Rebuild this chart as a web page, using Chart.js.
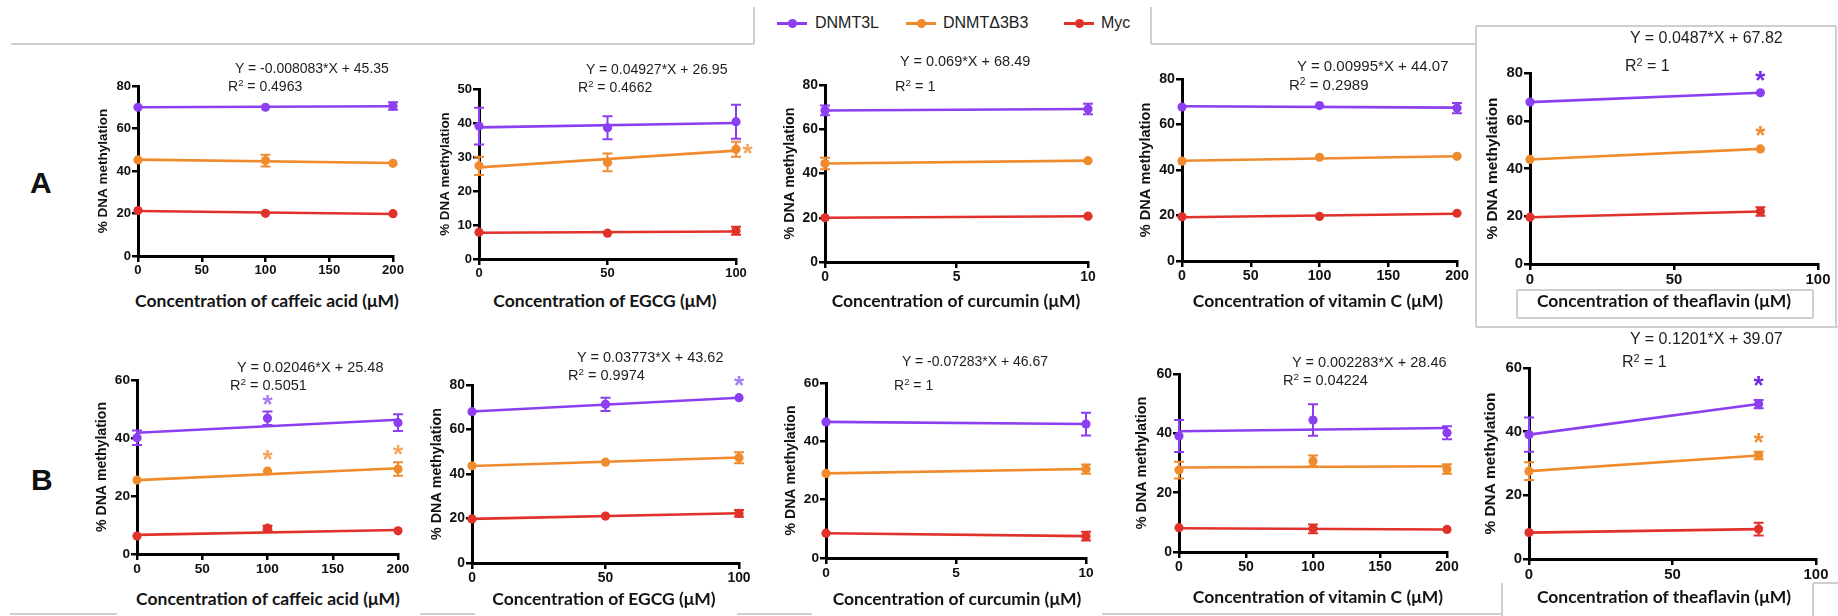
<!DOCTYPE html>
<html>
<head>
<meta charset="utf-8">
<script src="https://cdn.jsdelivr.net/npm/chart.js"></script>
<style>
  html, body { margin: 0; padding: 0; background: #fff; }
  body { position: relative; width: 1838px; height: 616px; overflow: hidden;
         font-family: "Liberation Sans", Arial, Helvetica, sans-serif; color: #1a1a1a; }
  .abs { position: absolute; white-space: nowrap; }
  .rule { position: absolute; background: #cfcfcf; }
  .eq { position: absolute; white-space: nowrap; line-height: 1; color: #1e1e1e; }
  .eq sup { font-size: 0.68em; line-height: 0; vertical-align: 0.5em; }
  .xlab { position: absolute; width: 420px; text-align: center; line-height: 1;
          font-family: Lato, "Open Sans", sans-serif; font-weight: 700; color: #141414; white-space: nowrap; }
  .panelLetter { position: absolute; font-weight: 700; font-size: 30px; line-height: 1; color: #111; }
  canvas { position: absolute; }
</style>
</head>
<body>
<script>
// ---- series ----
const SERIES = ['DNMT3L', 'DNMTΔ3B3', 'Myc'];
const COLORS = ['#8c3ff0', '#ef8b2c', '#e0312b'];
const STAR_LIGHT = ['#a87ef3', '#f4a55c'];
const STAR_DARK = ['#7428e2', '#f08d33'];
const Y_TITLE = '% DNA methylation';

// ---- A: caffeic acid ----
const a1Dose = [0, 100, 200];
const a1Mean = [[70.0, 70.0, 70.6], [45.2, 44.9, 43.6], [21.4, 20.1, 19.9]];
const a1Err  = [[0, 0, 1.8], [0, 2.8, 0], [0, 0, 0]];
const a1Fit  = [[70.0, 70.5], null, [21.2, 19.8]];
const a1Eq   = [-0.008083, 45.35];
const a1R2   = '0.4963';
const a1Stars = [];

// ---- A: EGCG ----
const a2Dose = [0, 50, 100];
const a2Mean = [[39.1, 38.6, 40.4], [27.4, 28.4, 32.3], [7.9, 7.6, 8.3]];
const a2Err  = [[5.4, 3.4, 5.0], [2.7, 2.6, 2.2], [0, 0, 1.2]];
const a2Fit  = [[38.7, 40.0], null, [7.7, 8.1]];
const a2Eq   = [0.04927, 26.95];
const a2R2   = '0.4662';
const a2Stars = [[1, 104.5, 32.5]];

// ---- A: curcumin ----
const a3Dose = [0, 10];
const a3Mean = [[68.49, 69.18], [44.5, 45.8], [20.0, 20.7]];
const a3Err  = [[2.2, 2.4], [2.6, 0], [0, 0]];
const a3Fit  = [null, null, null];
const a3Eq   = [0.069, 68.49];
const a3R2   = '1';
const a3Stars = [];

// ---- A: vitamin C ----
const a4Dose = [0, 100, 200];
const a4Mean = [[67.7, 68.3, 67.2], [43.9, 45.6, 46.0], [19.4, 19.6, 21.0]];
const a4Err  = [[0, 0, 2.3], [0, 0, 0], [0, 0, 0]];
const a4Fit  = [[68.0, 67.4], null, [19.2, 20.8]];
const a4Eq   = [0.00995, 44.07];
const a4R2   = '0.2989';
const a4Stars = [];

// ---- A: theaflavin ----
const a5Dose = [0, 80];
const a5Mean = [[67.82, 71.72], [43.8, 48.2], [19.6, 22.0]];
const a5Err  = [[0, 0], [0, 0], [0, 1.8]];
const a5Fit  = [null, null, null];
const a5Eq   = [0.0487, 67.82];
const a5R2   = '1';
const a5Stars = [[0, 80, 78.7], [1, 80, 55.7]];

// ---- B: caffeic acid ----
const b1Dose = [0, 100, 200];
const b1Mean = [[40.1, 46.8, 45.3], [25.5, 28.6, 29.3], [6.2, 8.9, 8.0]];
const b1Err  = [[2.5, 2.3, 2.9], [0, 0, 2.3], [0, 0.8, 0]];
const b1Fit  = [[41.8, 46.3], null, [6.6, 8.3]];
const b1Eq   = [0.02046, 25.48];
const b1R2   = '0.5051';
const b1Stars = [[0, 100, 53.1], [1, 100, 34.1], [1, 200, 35.9]];

// ---- B: EGCG ----
const b2Dose = [0, 50, 100];
const b2Mean = [[68.0, 71.3, 74.3], [43.7, 45.3, 47.3], [19.8, 21.1, 22.3]];
const b2Err  = [[0, 3.0, 0], [0, 0, 2.5], [0, 0, 1.5]];
const b2Fit  = [[68.1, 74.3], null, [19.85, 22.35]];
const b2Eq   = [0.03773, 43.62];
const b2R2   = '0.9974';
const b2Stars = [[0, 100, 82]];

// ---- B: curcumin ----
const b3Dose = [0, 10];
const b3Mean = [[46.67, 45.94], [29.0, 30.5], [8.5, 7.5]];
const b3Err  = [[0, 3.9], [0, 1.6], [0, 1.5]];
const b3Fit  = [null, null, null];
const b3Eq   = [-0.07283, 46.67];
const b3R2   = '1';
const b3Stars = [];

// ---- B: vitamin C ----
const b4Dose = [0, 100, 200];
const b4Mean = [[39.1, 44.5, 40.2], [27.6, 30.7, 28.0], [8.2, 7.8, 7.6]];
const b4Err  = [[5.4, 5.3, 2.2], [2.8, 1.8, 1.6], [0, 1.5, 0]];
const b4Fit  = [[40.7, 41.8], null, [8.0, 7.6]];
const b4Eq   = [0.002283, 28.46];
const b4R2   = '0.04224';
const b4Stars = [];

// ---- B: theaflavin ----
const b5Dose = [0, 80];
const b5Mean = [[39.07, 48.68], [27.6, 32.5], [8.3, 9.4]];
const b5Err  = [[5.4, 1.3], [2.8, 1.2], [0, 2.0]];
const b5Fit  = [null, null, null];
const b5Eq   = [0.1201, 39.07];
const b5R2   = '1';
const b5Stars = [[0, 80, 56.0], [1, 80, 38.1]];

// ---- axis labels ----
const COMPOUND_LABELS = [
  'Concentration of caffeic acid (μM)',
  'Concentration of EGCG (μM)',
  'Concentration of curcumin (μM)',
  'Concentration of vitamin C (μM)',
  'Concentration of theaflavin (μM)'
];

// ---- panel geometry (plot box in page pixels) ----
const panels = [
  { dose: a1Dose, mean: a1Mean, err: a1Err, fit: a1Fit, eq: a1Eq, r2: a1R2, stars: a1Stars, eqSeries: 1, label: 0,
    yMax: 80, yStep: 20, xMax: 200, xStep: 50, starSet: STAR_LIGHT,
    L: 138, T: 86, R: 393, B: 256, yTitleX: 103, yFont: 13.5, labX: 267, labY: 301, eqPos: [235, 68, 14], r2Pos: [228, 86, 14] },
  { dose: a2Dose, mean: a2Mean, err: a2Err, fit: a2Fit, eq: a2Eq, r2: a2R2, stars: a2Stars, eqSeries: 1, label: 1,
    yMax: 50, yStep: 10, xMax: 100, xStep: 50, starSet: STAR_LIGHT,
    L: 479, T: 89, R: 736, B: 259, yTitleX: 445, yFont: 13.4, labX: 605, labY: 301, eqPos: [586, 69, 14], r2Pos: [578, 87, 14] },
  { dose: a3Dose, mean: a3Mean, err: a3Err, fit: a3Fit, eq: a3Eq, r2: a3R2, stars: a3Stars, eqSeries: 0, label: 2,
    yMax: 80, yStep: 20, xMax: 10, xStep: 5, starSet: STAR_LIGHT,
    L: 825, T: 85, R: 1088, B: 262, yTitleX: 790, yFont: 14.3, labX: 956, labY: 301, eqPos: [900, 61, 14.5], r2Pos: [895, 86, 14.5] },
  { dose: a4Dose, mean: a4Mean, err: a4Err, fit: a4Fit, eq: a4Eq, r2: a4R2, stars: a4Stars, eqSeries: 1, label: 3,
    yMax: 80, yStep: 20, xMax: 200, xStep: 50, starSet: STAR_LIGHT,
    L: 1182, T: 79, R: 1457, B: 261, yTitleX: 1146, yFont: 14.6, labX: 1318, labY: 301, eqPos: [1297, 65, 15], r2Pos: [1289, 84, 15] },
  { dose: a5Dose, mean: a5Mean, err: a5Err, fit: a5Fit, eq: a5Eq, r2: a5R2, stars: a5Stars, eqSeries: 0, label: 4,
    yMax: 80, yStep: 20, xMax: 100, xStep: 50, starSet: STAR_DARK,
    L: 1530, T: 73, R: 1818, B: 264, yTitleX: 1493, yFont: 15.4, labX: 1664, labY: 301, eqPos: [1630, 38, 16], r2Pos: [1625, 66, 16] },
  { dose: b1Dose, mean: b1Mean, err: b1Err, fit: b1Fit, eq: b1Eq, r2: b1R2, stars: b1Stars, eqSeries: 1, label: 0,
    yMax: 60, yStep: 20, xMax: 200, xStep: 50, starSet: STAR_LIGHT,
    L: 137, T: 380, R: 398, B: 554, yTitleX: 102, yFont: 14.1, labX: 268, labY: 599, eqPos: [237, 367, 14.5], r2Pos: [230, 385, 14.5] },
  { dose: b2Dose, mean: b2Mean, err: b2Err, fit: b2Fit, eq: b2Eq, r2: b2R2, stars: b2Stars, eqSeries: 1, label: 1,
    yMax: 80, yStep: 20, xMax: 100, xStep: 50, starSet: STAR_LIGHT,
    L: 472, T: 385, R: 739, B: 563, yTitleX: 437, yFont: 14.3, labX: 604, labY: 599, eqPos: [577, 357, 14.5], r2Pos: [568, 375, 14.5] },
  { dose: b3Dose, mean: b3Mean, err: b3Err, fit: b3Fit, eq: b3Eq, r2: b3R2, stars: b3Stars, eqSeries: 0, label: 2,
    yMax: 60, yStep: 20, xMax: 10, xStep: 5, starSet: STAR_LIGHT,
    L: 826, T: 383, R: 1086, B: 558, yTitleX: 791, yFont: 14.1, labX: 957, labY: 599, eqPos: [902, 361, 14], r2Pos: [894, 385, 14] },
  { dose: b4Dose, mean: b4Mean, err: b4Err, fit: b4Fit, eq: b4Eq, r2: b4R2, stars: b4Stars, eqSeries: 1, label: 3,
    yMax: 60, yStep: 20, xMax: 200, xStep: 50, starSet: STAR_LIGHT,
    L: 1179, T: 374, R: 1447, B: 552, yTitleX: 1142, yFont: 14.4, labX: 1318, labY: 597, eqPos: [1292, 362, 14.5], r2Pos: [1283, 380, 14.5] },
  { dose: b5Dose, mean: b5Mean, err: b5Err, fit: b5Fit, eq: b5Eq, r2: b5R2, stars: b5Stars, eqSeries: 0, label: 4,
    yMax: 60, yStep: 20, xMax: 100, xStep: 50, starSet: STAR_DARK,
    L: 1529, T: 368, R: 1816, B: 559, yTitleX: 1491, yFont: 15.4, labX: 1664, labY: 597, eqPos: [1630, 339, 16], r2Pos: [1622, 362, 16] }
];

// ---- thin grey frame rules: [x1, y1, x2, y2] ----
const RULES = [
  [11, 44, 754, 44], [754, 7, 754, 44],
  [1151, 7, 1151, 44], [1151, 44, 1476, 44],
  [1476, 26, 1476, 327], [1476, 26, 1836, 26], [1836, 26, 1836, 327], [1476, 327, 1838, 327],
  [1517, 290, 1813, 290], [1517, 290, 1517, 318], [1813, 290, 1813, 318], [1517, 318, 1813, 318],
  [10, 614, 117, 614], [420, 614, 475, 614], [737, 614, 812, 614], [1102, 614, 1502, 614],
  [1502, 583, 1502, 616], [1813, 583, 1813, 616], [1813, 583, 1838, 583]
];

const LEGEND_POS = [[777, 815], [906, 943], [1064, 1101]]; // [marker start, text start]
const LEGEND_Y = 23;

// ---------------------------------------------------------------
function addRule(x1, y1, x2, y2) {
  const d = document.createElement('div');
  d.className = 'rule';
  if (y1 === y2) {
    Object.assign(d.style, { left: x1 + 'px', top: (y1 - 0.75) + 'px', width: (x2 - x1) + 'px', height: '1.5px' });
  } else {
    Object.assign(d.style, { left: (x1 - 0.75) + 'px', top: y1 + 'px', width: '1.5px', height: (y2 - y1) + 'px' });
  }
  document.body.appendChild(d);
}
RULES.forEach(r => addRule(...r));

// legend
SERIES.forEach((name, i) => {
  const [mx, tx] = LEGEND_POS[i];
  const ln = document.createElement('div');
  Object.assign(ln.style, { position: 'absolute', left: mx + 'px', top: (LEGEND_Y - 1.5) + 'px', width: '30px', height: '3px', background: COLORS[i] });
  const dot = document.createElement('div');
  Object.assign(dot.style, { position: 'absolute', left: (mx + 15 - 4.5) + 'px', top: (LEGEND_Y - 4.5) + 'px', width: '9px', height: '9px', borderRadius: '50%', background: COLORS[i] });
  const tx1 = document.createElement('div');
  tx1.className = 'abs';
  Object.assign(tx1.style, { left: tx + 'px', top: (LEGEND_Y - 8) + 'px', fontSize: '16px', lineHeight: '16px', color: '#222' });
  tx1.textContent = name;
  document.body.append(ln, dot, tx1);
});

// panel letters
[['A', 30, 168], ['B', 31, 465]].forEach(([t, x, y]) => {
  const d = document.createElement('div');
  d.className = 'panelLetter';
  d.style.left = x + 'px'; d.style.top = y + 'px';
  d.textContent = t;
  document.body.appendChild(d);
});

// error bars with caps
const errorBars = {
  id: 'errorBars',
  afterDatasetsDraw(chart) {
    const { ctx, scales: { x, y } } = chart;
    chart.data.datasets.forEach(ds => {
      if (!ds.errs) return;
      ctx.save();
      ctx.strokeStyle = ds.backgroundColor;
      ctx.lineWidth = 2;
      ds.data.forEach((pt, i) => {
        const e = ds.errs[i];
        if (!e) return;
        const px = x.getPixelForValue(pt.x);
        const top = y.getPixelForValue(pt.y + e);
        const bot = y.getPixelForValue(pt.y - e);
        const cap = 5;
        ctx.beginPath();
        ctx.moveTo(px, top); ctx.lineTo(px, bot);
        ctx.moveTo(px - cap, top); ctx.lineTo(px + cap, top);
        ctx.moveTo(px - cap, bot); ctx.lineTo(px + cap, bot);
        ctx.stroke();
      });
      ctx.restore();
    });
  }
};

// significance asterisks
const sigStars = {
  id: 'sigStars',
  afterDatasetsDraw(chart, args, opts) {
    const marks = opts.marks || [];
    if (!marks.length) return;
    const { ctx, scales: { x, y } } = chart;
    ctx.save();
    ctx.font = 'bold ' + opts.size + 'px "Liberation Sans", Arial, sans-serif';
    ctx.textAlign = 'center';
    ctx.textBaseline = 'alphabetic';
    const m = ctx.measureText('*');
    const dy = (m.actualBoundingBoxAscent - m.actualBoundingBoxDescent) / 2;
    marks.forEach(mk => {
      ctx.fillStyle = mk.color;
      ctx.fillText('*', x.getPixelForValue(mk.x), y.getPixelForValue(mk.y) + dy);
    });
    ctx.restore();
  }
};

function fmtEq(eq) {
  return 'Y = ' + eq[0] + '*X + ' + eq[1];
}

function addText(cls, html, x, y, size, extra) {
  const d = document.createElement('div');
  d.className = cls;
  d.innerHTML = html;
  d.style.fontSize = size + 'px';
  Object.assign(d.style, extra(x, y, size));
  document.body.appendChild(d);
}

panels.forEach(p => {
  const last = p.dose[p.dose.length - 1];
  const yTitleLH = p.yFont * 1.2;
  const cLeft = Math.round(p.yTitleX - yTitleLH / 2);
  const W = p.L - cLeft;
  const padT = 24, padR = 30, H = 30;
  const cTop = p.T - padT;
  const cW = p.R - cLeft + padR;
  const cH = p.B - cTop + H;
  const tickSize = Math.round(p.yFont * 0.97 * 10) / 10;

  const canvas = document.createElement('canvas');
  canvas.width = cW; canvas.height = cH;
  Object.assign(canvas.style, { left: cLeft + 'px', top: cTop + 'px', width: cW + 'px', height: cH + 'px' });
  document.body.appendChild(canvas);

  const datasets = [];
  SERIES.forEach((name, s) => {
    let ends;
    if (s === p.eqSeries) ends = [p.eq[1], p.eq[1] + p.eq[0] * last];
    else if (p.fit[s]) ends = p.fit[s];
    else ends = [p.mean[s][0], p.mean[s][p.mean[s].length - 1]];
    datasets.push({
      label: name + ' fit',
      data: [{ x: p.dose[0], y: ends[0] }, { x: last, y: ends[1] }],
      showLine: true, borderColor: COLORS[s], borderWidth: 2.6,
      pointRadius: 0, clip: false, order: 2
    });
    datasets.push({
      label: name,
      data: p.dose.map((d, i) => ({ x: d, y: p.mean[s][i] })),
      showLine: false, backgroundColor: COLORS[s], borderColor: COLORS[s],
      pointRadius: 4.6, pointBorderWidth: 0, clip: false, order: 1,
      errs: p.err[s]
    });
  });

  const tickFont = { family: '"Liberation Sans", Arial, sans-serif', weight: 'bold', size: tickSize };
  const axisGrid = { display: true, drawOnChartArea: false, drawTicks: true, tickLength: 6, color: '#000', lineWidth: 2.5 };

  new Chart(canvas, {
    type: 'scatter',
    data: { datasets },
    plugins: [errorBars, sigStars],
    options: {
      responsive: false, animation: false, events: [],
      layout: { padding: { top: padT, right: padR, left: 0, bottom: 0 } },
      plugins: {
        legend: { display: false }, tooltip: { enabled: false },
        sigStars: { size: 26, marks: p.stars.map(([s, x, y]) => ({ x, y, color: p.starSet[s] })) }
      },
      scales: {
        x: {
          type: 'linear', min: 0, max: p.xMax,
          ticks: { stepSize: p.xStep, font: tickFont, color: '#111', padding: 1, maxRotation: 0, autoSkip: false },
          grid: axisGrid,
          border: { display: true, color: '#000', width: 3 },
          afterFit: sc => { sc.height = H; }
        },
        y: {
          type: 'linear', min: 0, max: p.yMax,
          ticks: { stepSize: p.yStep, font: tickFont, color: '#111', padding: 1 },
          grid: axisGrid,
          border: { display: true, color: '#000', width: 3 },
          title: { display: true, text: Y_TITLE, color: '#111', padding: 0,
                   font: { family: '"Liberation Sans", Arial, sans-serif', weight: 'bold', size: p.yFont } },
          afterFit: sc => { sc.width = W; }
        }
      }
    }
  });

  // regression equation and R²
  const place = (x, y, size) => ({ left: x + 'px', top: (y - 0.49 * size) + 'px' });
  addText('eq', fmtEq(p.eq), p.eqPos[0], p.eqPos[1], p.eqPos[2], place);
  addText('eq', 'R<sup>2</sup> = ' + p.r2, p.r2Pos[0], p.r2Pos[1], p.r2Pos[2], place);

  // x-axis caption
  addText('xlab', COMPOUND_LABELS[p.label], p.labX, p.labY, 17.5,
    (x, y, size) => ({ left: (x - 210) + 'px', top: (y - 0.53 * size) + 'px' }));
});
</script>
</body>
</html>
